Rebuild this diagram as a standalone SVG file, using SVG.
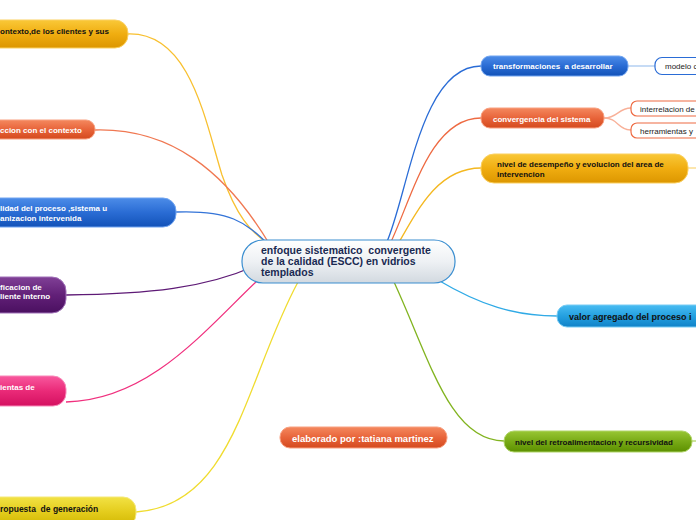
<svg xmlns="http://www.w3.org/2000/svg" width="696" height="520" viewBox="0 0 696 520">
<defs>
<linearGradient id="gOr" x1="0" y1="0" x2="0" y2="1"><stop offset="0" stop-color="#f9c838"/><stop offset="0.5" stop-color="#f0ad10"/><stop offset="1" stop-color="#dc9600"/></linearGradient>
<linearGradient id="gRd" x1="0" y1="0" x2="0" y2="1"><stop offset="0" stop-color="#f4885e"/><stop offset="0.5" stop-color="#e8643a"/><stop offset="1" stop-color="#d44a1e"/></linearGradient>
<linearGradient id="gBl" x1="0" y1="0" x2="0" y2="1"><stop offset="0" stop-color="#4c8ce8"/><stop offset="0.5" stop-color="#2a6cd4"/><stop offset="1" stop-color="#1252b8"/></linearGradient>
<linearGradient id="gPu" x1="0" y1="0" x2="0" y2="1"><stop offset="0" stop-color="#804096"/><stop offset="0.5" stop-color="#622078"/><stop offset="1" stop-color="#4a1060"/></linearGradient>
<linearGradient id="gPk" x1="0" y1="0" x2="0" y2="1"><stop offset="0" stop-color="#f8589e"/><stop offset="0.5" stop-color="#ea2a78"/><stop offset="1" stop-color="#d41060"/></linearGradient>
<linearGradient id="gYe" x1="0" y1="0" x2="0" y2="1"><stop offset="0" stop-color="#f2e244"/><stop offset="0.5" stop-color="#e4cc1c"/><stop offset="1" stop-color="#d0b600"/></linearGradient>
<linearGradient id="gCy" x1="0" y1="0" x2="0" y2="1"><stop offset="0" stop-color="#48bcf2"/><stop offset="0.5" stop-color="#24a0e0"/><stop offset="1" stop-color="#1082c8"/></linearGradient>
<linearGradient id="gGr" x1="0" y1="0" x2="0" y2="1"><stop offset="0" stop-color="#98c634"/><stop offset="0.5" stop-color="#78aa16"/><stop offset="1" stop-color="#5c9000"/></linearGradient>
<linearGradient id="gCe" x1="0" y1="0" x2="0" y2="1"><stop offset="0" stop-color="#ffffff"/><stop offset="0.5" stop-color="#eef1f4"/><stop offset="1" stop-color="#d2d9e0"/></linearGradient>
</defs>
<style>
text{font-family:"Liberation Sans",Arial,sans-serif;font-weight:bold;font-size:8px;white-space:pre}
.w{fill:#ffffff}
.k{fill:#111111}
.n{font-weight:normal;fill:#222222}
.c{fill:none;stroke-width:1.3}
</style>
<g id="connectors">
<path class="c" stroke="#f8c030" d="M128,34 C190,32 205,120 222,175 C236,215 250,232 270,245"/>
<path class="c" stroke="#f07852" d="M95,130 C170,128 225,170 270,245"/>
<path class="c" stroke="#3474d8" d="M176,212 C230,210 245,222 268,244"/>
<path class="c" stroke="#5e1a76" d="M66,295 C150,294 205,288 255,266"/>
<path class="c" stroke="#f0307e" d="M66,402 C150,400 205,330 258,280"/>
<path class="c" stroke="#f0dc30" d="M136,512 C235,505 245,380 298,282"/>
<path class="c" stroke="#2a6cd6" d="M386,244 C408,196 420,66 481,66"/>
<path class="c" stroke="#ee6a42" d="M390,244 C412,198 430,118 481,118"/>
<path class="c" stroke="#f4b820" d="M398,244 C420,205 440,168 481,168"/>
<path class="c" stroke="#30aae6" d="M438,280 C480,305 515,316 557,316"/>
<path class="c" stroke="#82b420" d="M394,282 C430,360 450,441 504,441"/>
<path class="c" stroke="#a8c8f0" d="M628,66 L655,66"/>
<path class="c" stroke="#f8b098" d="M604,118 C618,118 618,108 631,108"/>
<path class="c" stroke="#f8b098" d="M604,118 C618,118 618,130 631,130"/>
<path class="c" stroke="#fad880" d="M688,168 L696,168"/>
<path class="c" stroke="#b0d468" d="M692,441 L696,441"/>
</g>
<g id="center">
<rect x="242" y="240" width="213" height="43" rx="21" fill="url(#gCe)" stroke="#3a8ed0" stroke-width="1.2"/>
<text x="261" y="254" style="font-size:10.5px;fill:#1a2a52">enfoque sistematico  convergente</text>
<text x="261" y="265" style="font-size:10.5px;fill:#1a2a52">de la calidad (ESCC) en vidrios</text>
<text x="261" y="276" style="font-size:10.5px;fill:#1a2a52">templados</text>
</g>
<g id="n-left1">
<rect x="-60" y="20" width="188" height="28" rx="13" fill="url(#gOr)" stroke="#fbd060"/>
<text class="k" x="0" y="33.5">ontexto,de los clientes y sus</text>
</g>
<g id="n-left2">
<rect x="-60" y="120" width="155" height="19" rx="9" fill="url(#gRd)" stroke="#f8a080"/>
<text class="w" x="0" y="133">ccion con el contexto</text>
</g>
<g id="n-left3">
<rect x="-60" y="198" width="236" height="29" rx="13" fill="url(#gBl)" stroke="#70a4f0"/>
<text class="w" x="0" y="211">lidad del proceso ,sistema u</text>
<text class="w" x="0" y="221">anizacion intervenida</text>
</g>
<g id="n-left4">
<rect x="-60" y="277" width="126" height="36" rx="14" fill="url(#gPu)" stroke="#a070b8"/>
<text class="w" x="0" y="290">ficacion de</text>
<text class="w" x="0" y="298.5">liente interno</text>
</g>
<g id="n-left5">
<rect x="-60" y="376" width="126" height="30" rx="13" fill="url(#gPk)" stroke="#f888b8"/>
<text class="w" x="0" y="390">ientas de</text>
</g>
<g id="n-left6">
<rect x="-60" y="497" width="196" height="30" rx="13" fill="url(#gYe)" stroke="#f4e878"/>
<text class="k" x="0" y="511.5" style="font-size:8.5px">ropuesta  de generación</text>
</g>
<g id="n-r1">
<rect x="481" y="56" width="147" height="20" rx="9" fill="url(#gBl)" stroke="#70a4f0"/>
<text class="w" x="493" y="69">transformaciones  a desarrollar</text>
</g>
<g id="n-r1a">
<rect x="655" y="57.5" width="60" height="17" rx="7" fill="#ffffff" stroke="#2a6cd6" stroke-width="1.2"/>
<text class="n" x="665" y="69">modelo c</text>
</g>
<g id="n-r2">
<rect x="481" y="108" width="123" height="20" rx="9" fill="url(#gRd)" stroke="#f8a080"/>
<text class="w" x="493" y="122">convergencia del sistema</text>
</g>
<g id="n-r2a">
<rect x="631" y="101" width="80" height="15" rx="6" fill="#ffffff" stroke="#ee6a42" stroke-width="1.2"/>
<text class="n" x="640" y="112">interrelacion de</text>
</g>
<g id="n-r2b">
<rect x="631" y="123" width="80" height="15" rx="6" fill="#ffffff" stroke="#ee6a42" stroke-width="1.2"/>
<text class="n" x="640" y="134">herramientas y</text>
</g>
<g id="n-r3">
<rect x="481" y="154" width="207" height="29" rx="13" fill="url(#gOr)" stroke="#fbd060"/>
<text class="k" x="497" y="167">nivel de desempeño y evolucion del area de</text>
<text class="k" x="497" y="177">intervencion</text>
</g>
<g id="n-r4">
<rect x="557" y="305" width="160" height="22" rx="10" fill="url(#gCy)" stroke="#78ccf4"/>
<text class="k" x="569" y="320" style="font-size:9px">valor agregado del proceso i</text>
</g>
<g id="n-r5">
<rect x="504" y="431" width="188" height="21" rx="10" fill="url(#gGr)" stroke="#b0d468"/>
<text class="k" x="515" y="445">nivel del retroalimentacion y recursividad</text>
</g>
<g id="n-author">
<rect x="280" y="427" width="167" height="21" rx="10" fill="url(#gRd)" stroke="#f8a080"/>
<text class="w" x="292" y="441.5" style="font-size:9.5px">elaborado por :tatiana martinez</text>
</g>
</svg>
